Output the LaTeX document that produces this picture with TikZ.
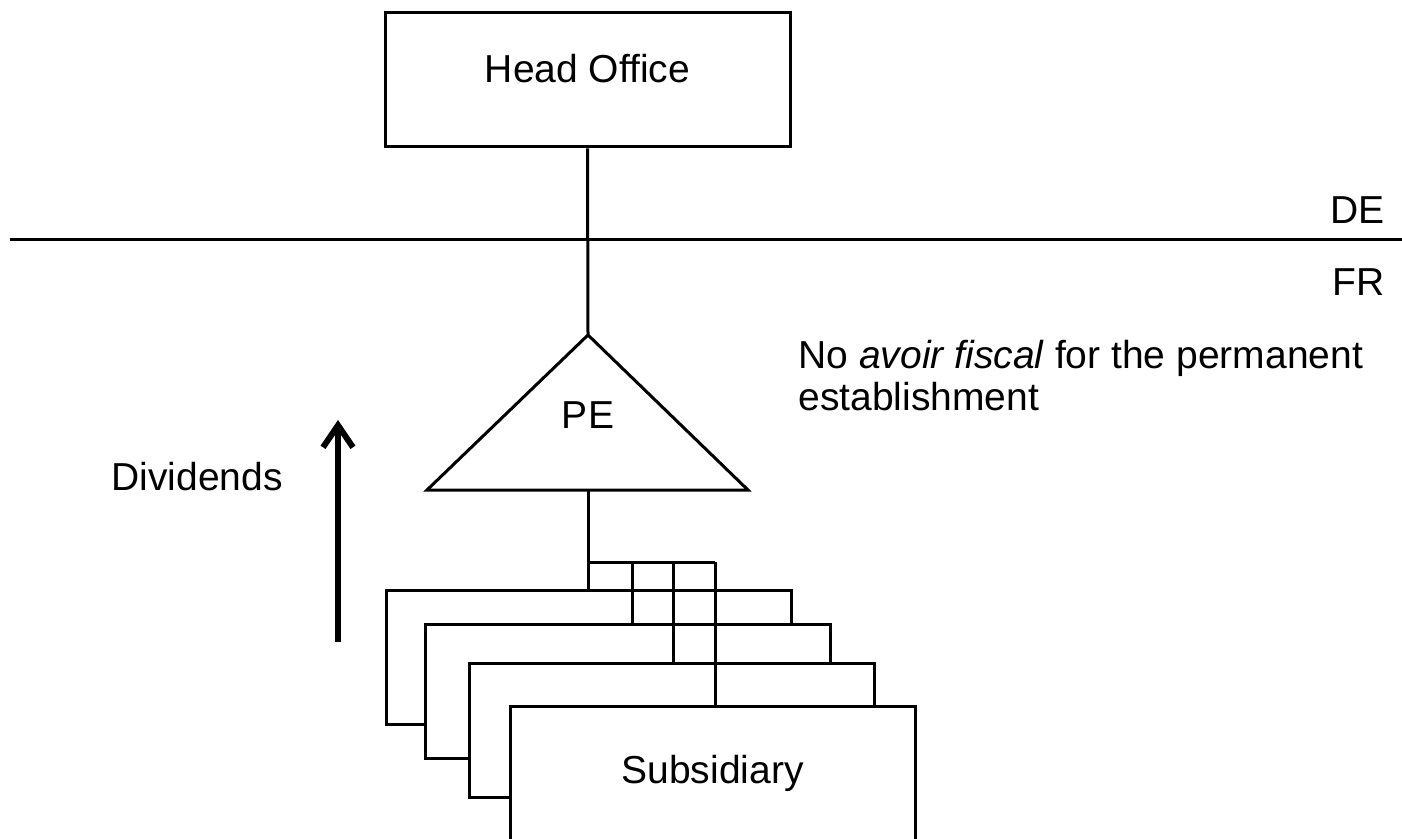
\documentclass[tikz,border=0pt]{standalone}
\usepackage{fontspec}
\setmainfont{Liberation Sans}
\usepackage{tikz}
\usetikzlibrary{arrows.meta, positioning}

\begin{document}
\begin{tikzpicture} [x = 0.5pt, y = -0.5pt,
          font = \fontsize{19.5}{21}\selectfont,
          line width = 1.5pt,
          box/.style = {draw, fill = white, rectangle,
              minimum width = 202.5pt, minimum height = 67pt
          },
          subbox/.style = {box, minimum height = 67pt},
          lbl/.style = {inner sep = 0pt}
          ]

          \clip (0,0) rectangle (1402,839);

          \node (ho) [box] at (587.5,80) {};
          \node (holbl) [lbl] at (587.5,69) {Head Office};

          % Border
          \coordinate (bl) at (10,240);
          \coordinate (br) at (1402,240);
          \draw (bl) -- (br);
          \node (de) [lbl, anchor = east] at (1386,210) {DE};
          \node (fr) [lbl, anchor = east] at (1386,282) {FR};

          % PE
          \coordinate (top) at (588,335);
          \coordinate (left) at (427,490);
          \coordinate (right) at (748,490);
          \coordinate (base) at (588,490);
          \draw (top) -- (left) -- (right) -- cycle;
          \node (pe) [lbl] at (588,415) {PE};

          \node (note) [lbl, anchor = north west, align = left] at (797,339)
              {No \textit{avoir fiscal} for the permanent\\establishment};

          \node (div) [lbl] at (197,477) {Dividends};
          \coordinate (dlo) at (338,642);
          \coordinate (dhi) at (338,420);
          \draw [line width = 3pt, -{Straight Barb[length = 11pt, width = 15pt]}] (dlo) -- (dhi);

          % Subsidiaries
          \node (s1) [subbox] at (588.5,657.5) {};
          \node (s2) [subbox] at (628,691) {};
          \node (s3) [subbox] at (671.5,730) {};
          \node (s4) [subbox] at (712.5,773) {Subsidiary};

          \coordinate (bar) at (588,562);
          \coordinate (b2) at (632,562);
          \coordinate (b3) at (673,562);
          \coordinate (b4) at (715,562);

          % Links
          \draw (ho.south) -- (top);
          \draw (base) -- (s1.north -| base);
          \draw (bar) -- (b4);
          \draw (b2) -- (b2 |- s2.north);
          \draw (b3) -- (b3 |- s3.north);
          \draw (b4) -- (b4 |- s4.north);

        \end{tikzpicture}
\end{document}
